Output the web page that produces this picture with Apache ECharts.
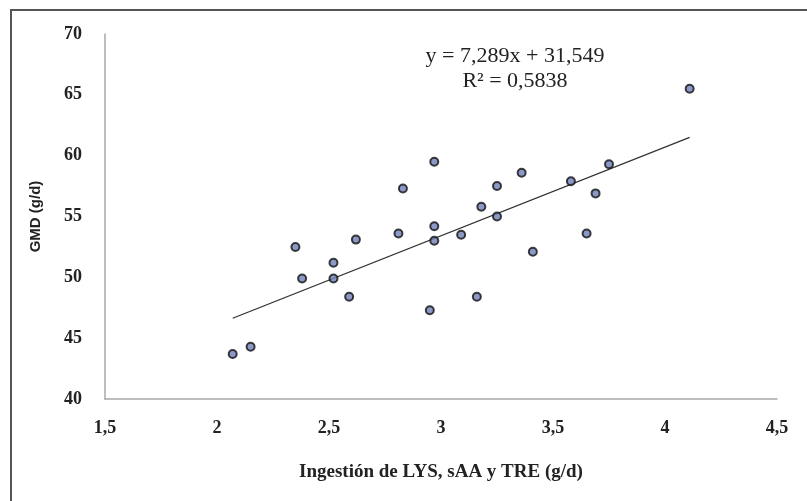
<!DOCTYPE html>
<html>
<head>
<meta charset="utf-8">
<script src="https://cdn.jsdelivr.net/npm/echarts@6/dist/echarts.min.js"></script>
<style>
  html, body { margin: 0; padding: 0; background: #fff; }
  #chart { width: 807px; height: 501px; }
</style>
</head>
<body>
<div id="chart"></div>
<script>
// ingestion (g/d) and GMD (g/d)
var ingestion = [2.07, 2.15, 2.35, 2.38, 2.52, 2.52, 2.59, 2.62, 2.81, 2.83, 2.95, 2.97, 2.97, 2.97, 3.09, 3.16, 3.18, 3.25, 3.25, 3.36, 3.41, 3.58, 3.65, 3.69, 3.75, 4.11];
var gmd = [43.7, 44.3, 52.5, 49.9, 51.2, 49.9, 48.4, 53.1, 53.6, 57.3, 47.3, 59.5, 54.2, 53.0, 53.5, 48.4, 55.8, 57.5, 55.0, 58.6, 52.1, 57.9, 53.6, 56.9, 59.3, 65.5];

// regression line as printed on the chart
var slope = 7.289;
var intercept = 31.549;
var eqLines = ["y = 7,289x + 31,549", "R\u00b2 = 0,5838"];

var xName = "Ingestión de LYS, sAA y TRE (g/d)";
var yName = "GMD (g/d)";

var points = [];
for (var i = 0; i < ingestion.length; i++) {
	points.push([ingestion[i], gmd[i]]);
}
var xMin = Math.min.apply(null, ingestion);
var xMax = Math.max.apply(null, ingestion);
var trend = [[xMin, slope * xMin + intercept], [xMax, slope * xMax + intercept]];

var comma = function(v){
	return String(v).replace(".", ",");
};

var chart = echarts.init(document.getElementById("chart"));
chart.setOption({
	animation: false,
	backgroundColor: "#fff",
	grid: { left: 105, right: 30, top: 34, bottom: 102 },
	xAxis: {
		type: "value",
		min: 1.5, max: 4.5, interval: 0.5,
		name: xName,
		nameLocation: "middle",
		nameGap: 64,
		nameTextStyle: { fontFamily: "Liberation Serif", fontWeight: "bold", fontSize: 19, color: "#222" },
		axisLine: { show: true, onZero: false, lineStyle: { color: "#a8a8a8", width: 1.5 } },
		axisTick: { show: false },
		splitLine: { show: false },
		axisLabel: {
			margin: 20,
			fontFamily: "Liberation Serif", fontWeight: "bold", fontSize: 18, color: "#222",
			formatter: comma
		}
	},
	yAxis: {
		type: "value",
		min: 40, max: 70, interval: 5,
		name: yName,
		nameLocation: "middle",
		nameGap: 62,
		nameTextStyle: { fontFamily: "Liberation Sans", fontWeight: "bold", fontSize: 15, color: "#222" },
		axisLine: { show: true, onZero: false, lineStyle: { color: "#a8a8a8", width: 1.5 } },
		axisTick: { show: false },
		splitLine: { show: false },
		axisLabel: {
			margin: 23,
			fontFamily: "Liberation Serif", fontWeight: "bold", fontSize: 18, color: "#222"
		}
	},
	graphic: [
		{
			type: "rect", silent: true,
			shape: { x: 11, y: 10, width: 820, height: 520 },
			style: { fill: null, stroke: "#555", lineWidth: 2 }
		},
		{
			type: "text", x: 515, y: 44,
			style: {
				text: eqLines.join("\n"), fill: "#222",
				font: "22px 'Liberation Serif'",
				align: "center", verticalAlign: "top", lineHeight: 25
			}
		}
	],
	series: [
		{
			type: "line",
			data: trend,
			symbol: "none",
			lineStyle: { color: "#333", width: 1.3 },
			z: 1
		},
		{
			type: "scatter",
			data: points,
			symbolSize: 8,
			itemStyle: { color: "#6f80b8", borderColor: "#111", borderWidth: 2 },
			z: 2
		}
	]
});
</script>
</body>
</html>
